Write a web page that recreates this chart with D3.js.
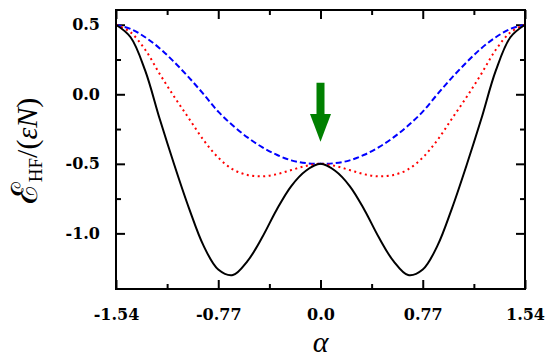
<!DOCTYPE html>
<meta charset="utf-8">
<style>
body { margin: 0; background: #fff; }
.tick text { font-family: "DejaVu Serif", serif; font-weight: 700; font-size: 16px; fill: #000; }
.tick line { stroke: #000; stroke-width: 2px; }
.axis path { display: none; }
.title { font-family: "Liberation Serif", "DejaVu Serif", serif; fill: #000; }
</style>
<svg id="chart"></svg>
<script src="https://d3js.org/d3.v7.min.js"></script>
<script>

// values
const alpha = [-1.54, -1.43, -1.32, -1.21, -1.10, -0.99, -0.88, -0.77, -0.66, -0.55, -0.44, -0.33, -0.22, -0.11, 0,
  0.11, 0.22, 0.33, 0.44, 0.55, 0.66, 0.77, 0.88, 0.99, 1.10, 1.21, 1.32, 1.43, 1.54];
const blackE = [0.50, 0.41, 0.17, -0.18, -0.51, -0.82, -1.09, -1.26, -1.30, -1.20, -1.03, -0.83, -0.66, -0.55, -0.50,
  -0.55, -0.66, -0.83, -1.03, -1.20, -1.30, -1.26, -1.09, -0.82, -0.51, -0.18, 0.17, 0.41, 0.50];
const redE = [0.50, 0.445, 0.32, 0.145, -0.02, -0.175, -0.33, -0.455, -0.54, -0.58, -0.59, -0.575, -0.545, -0.515, -0.50,
  -0.515, -0.545, -0.575, -0.59, -0.58, -0.54, -0.455, -0.33, -0.175, -0.02, 0.145, 0.32, 0.445, 0.50];
const blueE = [0.50, 0.47, 0.41, 0.33, 0.23, 0.12, 0.0, -0.125, -0.225, -0.31, -0.38, -0.435, -0.475, -0.495, -0.50,
  -0.495, -0.475, -0.435, -0.38, -0.31, -0.225, -0.125, 0.0, 0.12, 0.23, 0.33, 0.41, 0.47, 0.50];

const xTicks = [-1.54, -0.77, 0, 0.77, 1.54];
const xTickLabels = ["-1.54", "-0.77", "0.0", "0.77", "1.54"];
const xMinor = [-1.155, -0.385, 0.385, 1.155];
const yTicks = [-1.0, -0.5, 0, 0.5];
const yTickLabels = ["-1.0", "-0.5", "0.0", "0.5"];
const yMinor = [-0.75, -0.25, 0.25];

// green arrow: x position, top of shaft, base of head, tip
const arrowAt = [0, 0.083, -0.142, -0.341];

let svg = d3.select("#chart").attr("width", 557).attr("height", 361);

let margin = {top: 10, right: 32, bottom: 72, left: 116},
  width = 557 - margin.left - margin.right,
  height = 361 - margin.top - margin.bottom;

let x = d3.scaleLinear().domain([-1.54, 1.54]).range([0, width]);
let y = d3.scaleLinear().domain([-1.4, 0.606]).range([height, 0]);

let g = svg.append("g")
  .attr("transform", "translate(" + margin.left + "," + margin.top + ")");

// axes, ticks pointing inward
g.append("g").attr("class", "axis")
  .attr("transform", "translate(0," + height + ")")
  .call(d3.axisBottom(x).tickValues(xTicks).tickSize(-9).tickSizeOuter(0).tickPadding(20)
    .tickFormat((d, i) => xTickLabels[i]));
g.append("g").attr("class", "axis")
  .attr("transform", "translate(0," + height + ")")
  .call(d3.axisBottom(x).tickValues(xMinor).tickSize(-5).tickSizeOuter(0).tickFormat(""));
g.append("g").attr("class", "axis")
  .call(d3.axisTop(x).tickValues(xTicks).tickSize(-9).tickSizeOuter(0).tickFormat(""));
g.append("g").attr("class", "axis")
  .call(d3.axisTop(x).tickValues(xMinor).tickSize(-5).tickSizeOuter(0).tickFormat(""));

g.append("g").attr("class", "axis")
  .call(d3.axisLeft(y).tickValues(yTicks).tickSize(-9).tickSizeOuter(0).tickPadding(16)
    .tickFormat((d, i) => yTickLabels[i]));
g.append("g").attr("class", "axis")
  .call(d3.axisLeft(y).tickValues(yMinor).tickSize(-5).tickSizeOuter(0).tickFormat(""));
g.append("g").attr("class", "axis")
  .attr("transform", "translate(" + width + ",0)")
  .call(d3.axisRight(y).tickValues(yTicks).tickSize(-9).tickSizeOuter(0).tickFormat(""));
g.append("g").attr("class", "axis")
  .attr("transform", "translate(" + width + ",0)")
  .call(d3.axisRight(y).tickValues(yMinor).tickSize(-5).tickSizeOuter(0).tickFormat(""));

// curves
let line = (vals) => d3.line()
  .x((d, i) => x(alpha[i]))
  .y(d => y(d))
  .curve(d3.curveCatmullRom)(vals);

g.append("path").attr("d", line(blueE))
  .attr("fill", "none").attr("stroke", "#0000ff").attr("stroke-width", 2)
  .attr("stroke-dasharray", "6,3");
g.append("path").attr("d", line(redE))
  .attr("fill", "none").attr("stroke", "#ff0000").attr("stroke-width", 2)
  .attr("stroke-dasharray", "2,3.5");
g.append("path").attr("d", line(blackE))
  .attr("fill", "none").attr("stroke", "#000").attr("stroke-width", 2);

// arrow
let ax = x(arrowAt[0]);
g.append("rect")
  .attr("x", ax - 4).attr("y", y(arrowAt[1]))
  .attr("width", 8).attr("height", y(arrowAt[2]) - y(arrowAt[1]) + 1)
  .attr("fill", "#008000");
g.append("path")
  .attr("d", "M" + (ax - 10.5) + "," + y(arrowAt[2]) + "L" + (ax + 10.5) + "," + y(arrowAt[2]) +
    "L" + ax + "," + y(arrowAt[3]) + "Z")
  .attr("fill", "#008000");

// frame
g.append("rect").attr("width", width).attr("height", height)
  .attr("fill", "none").attr("stroke", "#000").attr("stroke-width", 2);

// axis titles
svg.append("text").attr("class", "title")
  .attr("x", margin.left + width / 2).attr("y", 352)
  .attr("text-anchor", "middle")
  .style("font-size", "30px").style("font-style", "italic")
  .text("α");

let yt = svg.append("text").attr("class", "title")
  .attr("transform", "translate(37,151) rotate(-90)")
  .attr("text-anchor", "middle")
  .style("font-size", "30px");
yt.append("tspan").style("font-size", "36px").text("ℰ");
yt.append("tspan").attr("dy", 5).style("font-size", "19px").text("HF");
yt.append("tspan").attr("dy", -5).text("/(");
yt.append("tspan").style("font-style", "italic").text("εN");
yt.append("tspan").text(")");

</script>
